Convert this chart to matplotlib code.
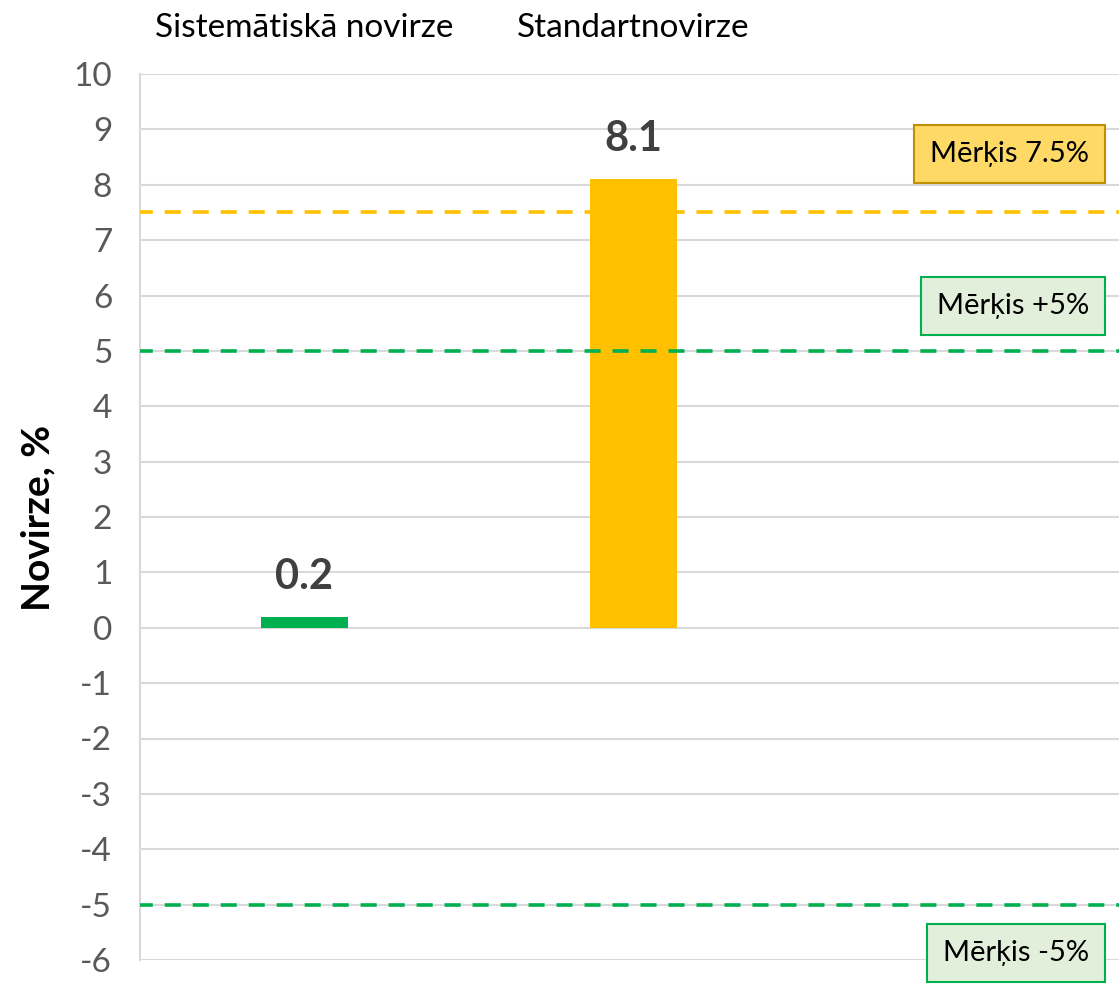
import matplotlib
matplotlib.use("Agg")
import matplotlib.pyplot as plt
from matplotlib.transforms import blended_transform_factory

categories = ["Sistemātiskā novirze", "Standartnovirze", ""]
values = [0.2, 8.1]
bar_colors = ["#00B050", "#FFC000"]
value_labels = ["0.2", "8.1"]
targets = [7.5, 5, -5]
target_colors = ["#FFC000", "#00B050", "#00B050"]
target_labels = ["Mērķis 7.5%", "Mērķis +5%", "Mērķis -5%"]
target_label_y = [8.56, 5.81, -5.87]
target_face = ["#FFD966", "#E2EFDA", "#E2EFDA"]
target_edge = ["#BF9000", "#00B050", "#00B050"]
yticks = list(range(-6, 11))

plt.rcParams['font.family'] = ['Lato', 'DejaVu Sans']

W, H = 1119, 984
fig = plt.figure(figsize=(W/100, H/100), dpi=100)
left, right, top, bottom = 140, 1127, 74, 960
ax = fig.add_axes([left/W, 1 - bottom/H, (right-left)/W, (bottom-top)/H])

ax.set_xlim(-0.5, 2.5)
ax.set_ylim(-6, 10)
ax.set_yticks(yticks)
ax.set_yticklabels([str(t) for t in yticks], fontsize=24, color="#595959")
ax.grid(axis='y', color="#D9D9D9", linewidth=1.5)
ax.set_axisbelow(True)
for s in ['top', 'right', 'bottom']:
    ax.spines[s].set_visible(False)
ax.spines['left'].set_color("#D9D9D9")
ax.spines['left'].set_linewidth(1.5)
ax.tick_params(axis='y', length=0, pad=20)

ax.xaxis.tick_top()
ax.set_xticks(range(len(categories)))
ax.set_xticklabels(categories, fontsize=24, color="black")
ax.tick_params(axis='x', length=0, pad=22)

x = list(range(len(values)))
bars = ax.bar(x, values, width=0.267, color=bar_colors, zorder=3)
for xi, v, lab in zip(x, values, value_labels):
    ax.annotate(lab, (xi, v), xytext=(0, 15), textcoords='offset points',
                ha='center', va='bottom', fontsize=30, fontweight='bold', color="#404040")

for t, c in zip(targets, target_colors):
    ax.axhline(t, color=c, linewidth=2.6, linestyle=(0.9, (4.45, 3.3)), zorder=4)

trans = blended_transform_factory(fig.transFigure, ax.transData)
for lab, yy, fc, ec in zip(target_labels, target_label_y, target_face, target_edge):
    ax.text(1089/W, yy, lab, transform=trans, ha='right', va='center', fontsize=21,
            color='black', zorder=5,
            bbox=dict(boxstyle='square,pad=0.55', facecolor=fc, edgecolor=ec, linewidth=1.5))

fig.text(38/W, 1 - 518/H, "Novirze, %", rotation=90, ha='center', va='center',
         fontsize=28, fontweight='bold', color='black')

fig.savefig("out.png", dpi=100)
